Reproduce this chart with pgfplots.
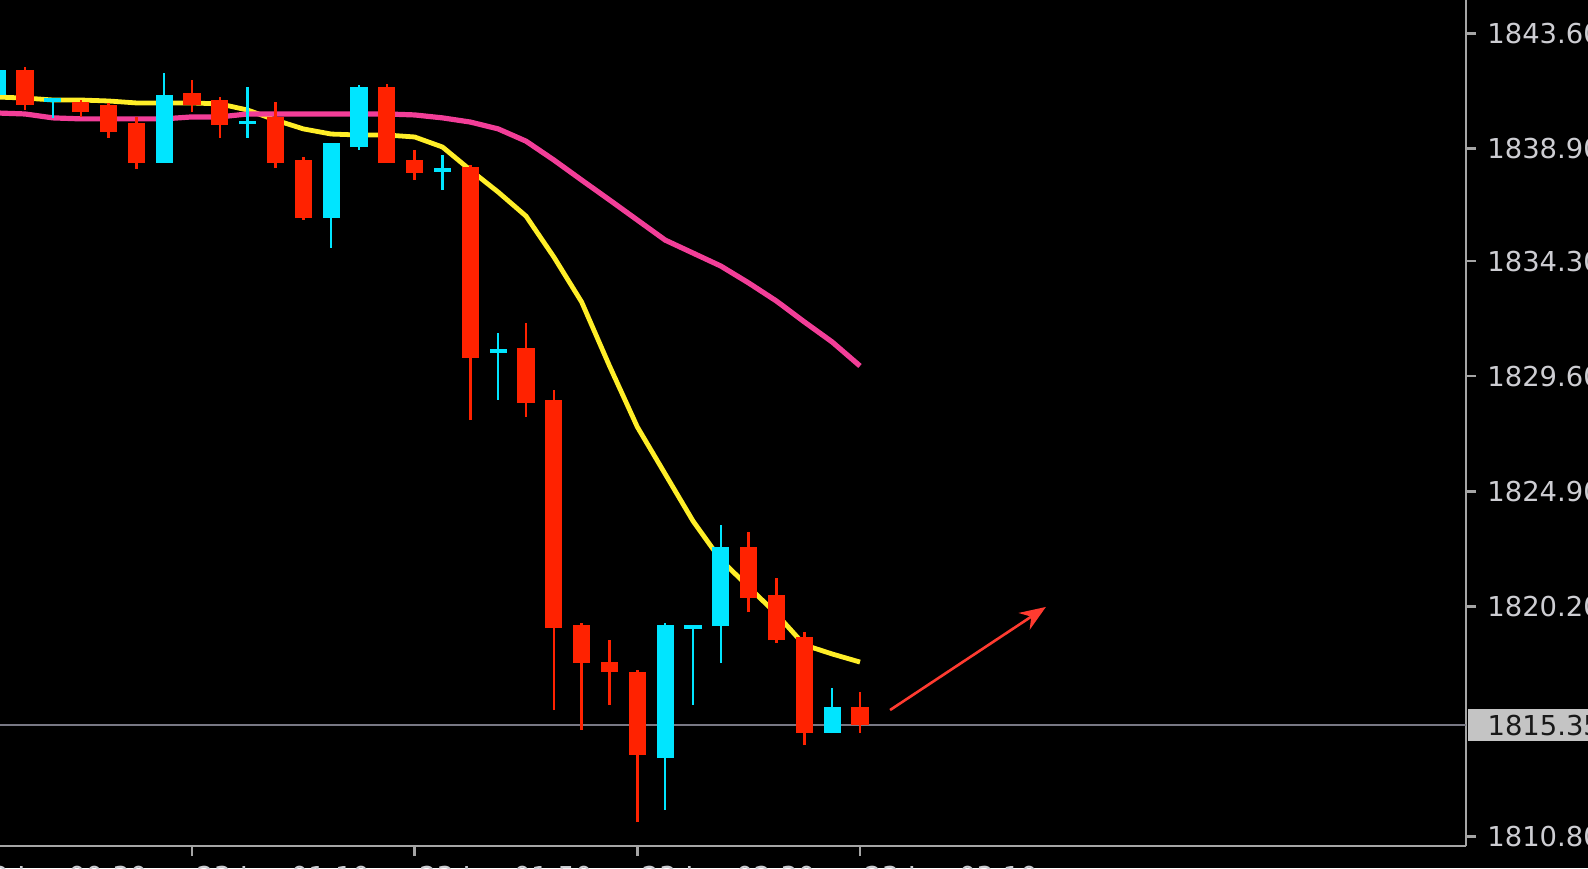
\documentclass[border=0pt]{standalone}
\usepackage{fontspec}
\setmainfont{DejaVu Sans}
\usepackage{pgfplots}
\pgfplotsset{compat=1.18}
\usepackage{pgfplotstable}
\usetikzlibrary{arrows.meta}

\definecolor{candlered}{RGB}{255,34,0}
\definecolor{candlecyan}{RGB}{0,229,255}
\definecolor{mayellow}{RGB}{255,238,40}
\definecolor{mapink}{RGB}{242,62,152}
\definecolor{axisgray}{RGB}{165,165,165}
\definecolor{labelgray}{RGB}{205,205,210}
\definecolor{priceline}{RGB}{120,120,132}
\definecolor{boxgray}{RGB}{196,196,196}
\definecolor{arrowred}{RGB}{255,59,48}

% bearish candles: x, body low (close), body high (open), low, high
\pgfplotstableread{
x  bl       bh       lo       hi
1  1840.68  1842.11  1840.47  1842.23
3  1840.39  1840.80  1840.19  1840.88
4  1839.57  1840.68  1839.33  1840.76
5  1838.31  1839.94  1838.06  1840.19
7  1840.68  1841.17  1840.39  1841.70
8  1839.86  1840.88  1839.33  1841.00
10 1838.31  1840.19  1838.10  1840.80
11 1836.06  1838.43  1836.00  1838.55
14 1838.31  1841.41  1838.31  1841.53
15 1837.90  1838.43  1837.61  1838.84
17 1830.35  1838.14  1827.81  1838.23
19 1828.51  1830.75  1827.94  1831.77
20 1819.32  1828.64  1815.97  1829.04
21 1817.89  1819.44  1815.16  1819.52
22 1817.52  1817.93  1816.18  1818.83
23 1814.14  1817.52  1811.40  1817.60
27 1820.55  1822.63  1819.97  1823.24
28 1818.83  1820.67  1818.71  1821.36
29 1815.03  1818.95  1814.54  1819.16
31 1815.35  1816.09  1815.03  1816.71
}\redtab

% bullish candles: x, body low (open), body high (close), low, high
\pgfplotstableread{
x  bl       bh       lo       hi
0  1841.08  1842.11  1841.00  1842.43
2  1840.80  1840.96  1840.15  1840.97
6  1838.31  1841.08  1838.31  1841.98
9  1839.88  1840.04  1839.33  1841.41
12 1836.06  1839.13  1834.84  1839.13
13 1838.96  1841.41  1838.84  1841.50
16 1837.96  1838.12  1837.21  1838.63
18 1830.54  1830.70  1828.64  1831.37
24 1814.01  1819.44  1811.89  1819.52
25 1819.28  1819.44  1816.18  1819.44
26 1819.40  1822.63  1817.89  1823.53
30 1815.03  1816.09  1815.03  1816.87
}\cyantab

\pgfplotstableread{
x  y
0  1841.00
1  1840.96
2  1840.88
3  1840.88
4  1840.84
5  1840.76
6  1840.76
7  1840.76
8  1840.72
9  1840.47
10 1840.06
11 1839.70
12 1839.49
13 1839.45
14 1839.45
15 1839.37
16 1838.96
17 1838.02
18 1837.12
19 1836.14
20 1834.47
21 1832.63
22 1830.02
23 1827.53
24 1825.61
25 1823.69
26 1822.10
27 1821.00
28 1819.89
29 1818.63
30 1818.26
31 1817.93
}\yellowtab

\pgfplotstableread{
x  y
0  1840.35
1  1840.31
2  1840.15
3  1840.11
4  1840.11
5  1840.11
6  1840.11
7  1840.19
8  1840.19
9  1840.31
10 1840.31
11 1840.31
12 1840.31
13 1840.31
14 1840.31
15 1840.27
16 1840.15
17 1839.98
18 1839.70
19 1839.20
20 1838.43
21 1837.61
22 1836.80
23 1835.98
24 1835.16
25 1834.63
26 1834.10
27 1833.41
28 1832.67
29 1831.82
30 1831.00
31 1830.02
}\pinktab

\begin{document}
\begin{tikzpicture}
\fill[black] (0,-11pt) rectangle (794pt,423pt);
\begin{axis}[
  at={(0pt,0pt)}, anchor=south west,
  scale only axis, width=733pt, height=423pt,
  xmin=0.10, xmax=52.775, ymin=1810.419, ymax=1844.964,
  axis x line*=bottom, axis y line*=right,
  axis line style={draw=axisgray, line width=1.2pt},
  tick align=outside, major tick length=5pt,
  tick style={draw=axisgray, line width=1.2pt},
  xtick={7,15,23,31},
  xticklabels={23 Jan 01:10, 23 Jan 01:50, 23 Jan 02:30, 23 Jan 03:10},
  ytick={1810.8,1820.2,1824.9,1829.6,1834.3,1838.9,1843.6},
  yticklabels={1810.80,1820.20,1824.90,1829.60,1834.30,1838.90,1843.60},
  ticklabel style={font=\fontsize{13.7}{16}\selectfont, text=labelgray},
  yticklabel style={anchor=west, inner sep=0pt, xshift=5.5pt},
  xticklabel style={anchor=north west, inner sep=0pt, yshift=-5pt, xshift=2pt},
  /pgf/number format/assume math mode=true,
  clip=true,
]
% current price line
\addplot[priceline, line width=1pt, forget plot] coordinates {(0.1,1815.35) (52.775,1815.35)};
% moving averages
\addplot[mayellow, line width=2.4pt, line join=round, forget plot] table[x=x,y=y] {\yellowtab};
\addplot[mapink, line width=2.6pt, line join=round, forget plot] table[x=x,y=y] {\pinktab};
% wicks
\addplot[draw=none, mark=none, forget plot,
  error bars/.cd, y dir=plus, y explicit, error mark=none,
  error bar style={line width=1.2pt, draw=candlered}]
  table[x=x, y=lo, y error plus expr=\thisrow{hi}-\thisrow{lo}] {\redtab};
\addplot[draw=none, mark=none, forget plot,
  error bars/.cd, y dir=plus, y explicit, error mark=none,
  error bar style={line width=1.2pt, draw=candlecyan}]
  table[x=x, y=lo, y error plus expr=\thisrow{hi}-\thisrow{lo}] {\cyantab};
% bodies
\addplot[draw=none, mark=none, forget plot,
  error bars/.cd, y dir=plus, y explicit, error mark=none,
  error bar style={line width=8.6pt, draw=candlered}]
  table[x=x, y=bl, y error plus expr=\thisrow{bh}-\thisrow{bl}] {\redtab};
\addplot[draw=none, mark=none, forget plot,
  error bars/.cd, y dir=plus, y explicit, error mark=none,
  error bar style={line width=8.6pt, draw=candlecyan}]
  table[x=x, y=bl, y error plus expr=\thisrow{bh}-\thisrow{bl}] {\cyantab};
% annotation arrow
\draw[arrowred, line width=1.3pt, -{Stealth[length=13pt, width=10pt]}]
  (axis cs:32.08,1815.97) -- (axis cs:37.68,1820.18);
\coordinate (pricepos) at (axis cs:52.775,1815.35);
\coordinate (t0) at (axis cs:-1,1810.419);
\end{axis}
\node[fill=boxgray, text=black!90, anchor=west, inner xsep=10pt, inner ysep=0pt,
  minimum height=16pt, font=\fontsize{13.7}{16}\selectfont]
  at ([xshift=0.6pt]pricepos) {1815.35};
\node[anchor=north west, inner sep=0pt, text=labelgray, font=\fontsize{13.7}{16}\selectfont]
  at ([xshift=2pt, yshift=-10pt]t0) {23 Jan 00:30};
\pgfresetboundingbox
\path[use as bounding box] (0,-11pt) rectangle (794pt,423pt);
\end{tikzpicture}
\end{document}
